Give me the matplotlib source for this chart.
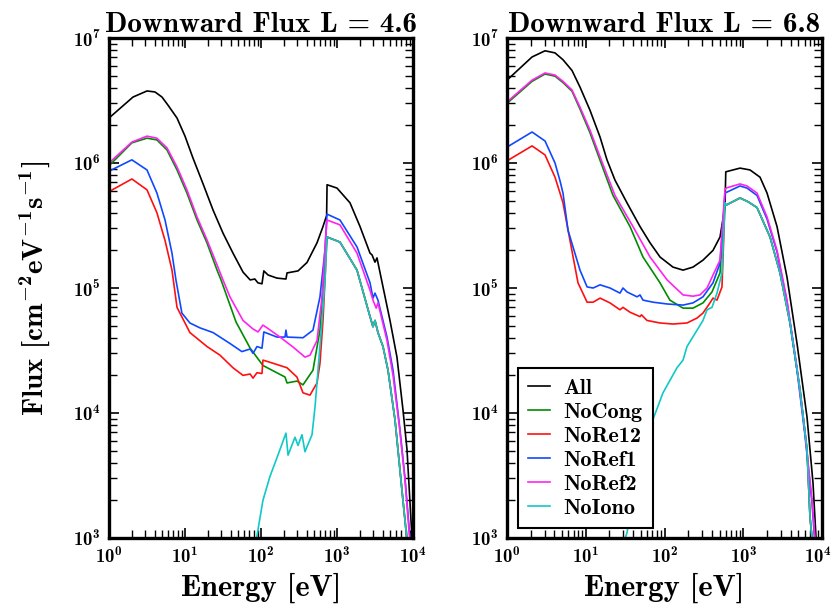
import matplotlib.pyplot as plt
from matplotlib.transforms import ScaledTranslation

plt.rcParams['font.family'] = 'cmb10'
plt.rcParams['mathtext.fontset'] = 'custom'
plt.rcParams['mathtext.rm'] = 'cmb10'
plt.rcParams['mathtext.bf'] = 'cmb10'
plt.rcParams['mathtext.it'] = 'cmb10'
plt.rcParams['axes.unicode_minus'] = False

labels = ['All', 'NoCong', 'NoRe12', 'NoRef1', 'NoRef2', 'NoIono']
colors = ['k', '#008c00', '#ff1010', '#1048ff', '#ff22f0', '#10c8c8']

# ---- L = 4.6 ----
all46_e = [1.0, 2.07, 3.16, 4.03, 4.98, 5.98, 7.85, 10, 12.7, 17.3, 23.4, 31.6, 42.8, 58, 72, 83, 91, 103,
           109, 124, 162, 213, 220, 307, 403, 546, 654, 730, 740, 1000, 1483, 2009, 2720, 2890, 3160, 3360,
           4030, 4980, 6150, 7380, 8340, 9400, 9900]
all46_f = [2.29e6, 3.37e6, 3.77e6, 3.7e6, 3.37e6, 2.9e6, 2.29e6, 1.64e6, 1.1e6, 6.8e5, 4.2e5, 2.75e5, 1.9e5,
           1.34e5, 1.16e5, 1.18e5, 1.1e5, 1.08e5, 1.37e5, 1.27e5, 1.2e5, 1.18e5, 1.32e5, 1.37e5, 1.6e5,
           2.3e5, 3.1e5, 3.8e5, 6.7e5, 6.3e5, 4.8e5, 3.1e5, 1.9e5, 1.84e5, 1.61e5, 1.74e5, 1.02e5, 5.5e4,
           2.8e4, 1.06e4, 5.1e3, 1.4e3, 8e2]

# shared high-energy part of NoCong / NoRe12 / NoIono
peak46_e = [738, 1094, 1833, 2720, 2975, 3160, 3460, 4030, 4690, 5800, 7380, 8600]
peak46_f = [2.56e5, 2.33e5, 1.39e5, 5.9e4, 4.9e4, 5.5e4, 4.4e4, 3.4e4, 2.2e4, 8.8e3, 2.0e3, 8e2]

cong46_e = [1.0, 2.0, 3.16, 4.27, 5.8, 7.85, 10.6, 14.4, 19.5, 26.4, 29.8, 46.9, 72, 106, 207, 220, 297,
            357, 483, 597, 695]
cong46_f = [9.5e5, 1.45e6, 1.58e6, 1.53e6, 1.27e6, 8.8e5, 5.75e5, 3.5e5, 2.29e5, 1.39e5, 1.16e5, 5.35e4,
            3.3e4, 2.4e4, 1.94e4, 1.74e4, 1.8e4, 1.68e4, 2.2e4, 4.6e4, 1.66e5]

re12_46_e = [1.0, 2.0, 3.16, 4.27, 5.46, 6.74, 7.85, 11.6, 19.5, 28.9, 42.8, 58, 72, 78.5, 88.5, 103, 106,
             144, 220, 297, 357, 441, 546, 597, 654, 695]
re12_46_f = [5.9e5, 7.45e5, 6.1e5, 4.0e5, 2.4e5, 1.39e5, 7.0e4, 4.4e4, 3.4e4, 2.9e4, 2.3e4, 2.0e4, 2.05e4,
             1.9e4, 2.1e4, 2.07e4, 2.65e4, 2.5e4, 2.3e4, 1.94e4, 1.45e4, 1.39e4, 1.74e4, 2.5e4, 5.5e4, 1.16e5]

ref1_46_e = [1.0, 2.0, 3.16, 4.27, 5.46, 6.74, 7.6, 9.1, 11.6, 15.7, 23.4, 39, 56, 72, 78.5, 88.5, 103, 109,
             162, 207, 213, 220, 357, 483, 597, 695, 738, 1094, 1833, 2720, 2975, 3160, 3460, 4550, 5460,
             6700, 7850, 9400]
ref1_46_f = [8.6e5, 1.06e6, 8.8e5, 5.75e5, 3.5e5, 1.9e5, 1.16e5, 6.3e4, 5.25e4, 4.8e4, 4.4e4, 3.6e4, 3.1e4,
             3.25e4, 3.0e4, 3.4e4, 3.3e4, 4.45e4, 4.05e4, 4.05e4, 4.6e4, 4.05e4, 4.0e4, 4.6e4, 8.5e4, 2.0e5,
             3.9e5, 3.5e5, 2.13e5, 1.1e5, 8.3e4, 9.1e4, 8.0e4, 4.05e4, 2.2e4, 7.6e3, 3.0e3, 8e2]

ref2_46_e = [1.0, 2.0, 3.16, 4.27, 5.8, 7.85, 10.6, 14.4, 19.5, 26.4, 31.6, 39, 58, 78.5, 91.4, 106, 120, 178,
             264, 379, 441, 546, 635, 695, 738, 1094, 1833, 2720, 2975, 3280, 3460, 4550, 5460, 6700, 7850,
             9300]
ref2_46_f = [1.0e6, 1.47e6, 1.64e6, 1.58e6, 1.32e6, 9.3e5, 6.1e5, 3.7e5, 2.42e5, 1.53e5, 1.16e5, 8.5e4, 5.5e4,
             4.7e4, 4.45e4, 5.05e4, 4.8e4, 4.05e4, 3.37e4, 2.8e4, 2.9e4, 3.8e4, 8.5e4, 2.1e5, 3.5e5, 3.2e5,
             1.9e5, 9.6e4, 8.0e4, 6.9e4, 7.6e4, 3.8e4, 2.0e4, 7.3e3, 2.9e3, 8e2]

iono46_e = [85, 106, 131, 167, 213, 227, 280, 307, 346, 379, 469, 514, 562, 635, 695]
iono46_f = [9e2, 2.0e3, 3.1e3, 4.6e3, 6.9e3, 4.6e3, 6.4e3, 5.5e3, 6.7e3, 4.9e3, 6.7e3, 1.12e4, 2.2e4, 5.5e4,
            1.16e5]

# ---- L = 6.8 ----
all68_e = [1.0, 2.08, 3.04, 4.07, 5.14, 6.69, 8.45, 11.3, 15.2, 18.6, 23.5, 33.4, 48.9, 65.5, 87.7, 128, 172,
           230, 308, 413, 507, 586, 600, 910, 1218, 1633, 2004, 2685, 3595, 4817, 6450, 7690, 8400, 8700]
all68_f = [4.6e6, 7.05e6, 7.9e6, 7.6e6, 6.7e6, 5.5e6, 4.05e6, 2.65e6, 1.61e6, 1.06e6, 7.3e5, 4.8e5, 3.1e5,
           2.3e5, 1.77e5, 1.47e5, 1.39e5, 1.47e5, 1.67e5, 2.0e5, 2.56e5, 4.45e5, 8.5e5, 9.1e5, 8.8e5, 7.7e5,
           5.75e5, 3.1e5, 1.22e5, 3.6e4, 9.3e3, 2.75e3, 1.0e3, 7e2]

peak68_e = [586, 604, 910, 1150, 1496, 2187, 2931, 3926, 5260, 6450, 7040, 7470, 7700]
peak68_f = [4.8e5, 4.6e5, 5.25e5, 4.9e5, 4.4e5, 2.56e5, 1.32e5, 5.25e4, 1.53e4, 5.1e3, 1.47e3, 1.0e3, 7e2]

cong68_e = [1.0, 2.08, 3.04, 4.07, 5.14, 6.69, 8.45, 11.3, 15.2, 22.2, 36.5, 53.3, 87.7, 117, 172, 230, 308,
            401, 507]
cong68_f = [3.0e6, 4.5e6, 5.15e6, 4.95e6, 4.4e6, 3.75e6, 2.7e6, 1.75e6, 1.05e6, 5.5e5, 3.1e5, 1.77e5, 1.1e5,
            8.0e4, 6.9e4, 6.9e4, 7.6e4, 9.3e4, 1.32e5]

re12_68_e = [1.0, 2.08, 3.04, 4.07, 4.71, 5.14, 6.31, 7.97, 10.4, 12.4, 15.2, 20.3, 27.2, 29.7, 36.5, 48.9, 51,
             60, 87.7, 128, 193, 259, 308, 378, 413, 464, 537]
re12_68_f = [1.04e6, 1.37e6, 1.16e6, 7.7e5, 5.75e5, 4.8e5, 2.4e5, 1.1e5, 7.7e4, 7.7e4, 8.3e4, 7.6e4, 6.7e4,
             7.0e4, 6.4e4, 5.9e4, 6.1e4, 5.5e4, 5.25e4, 5.15e4, 5.25e4, 5.75e4, 6.3e4, 7.6e4, 8.3e4, 8.0e4,
             1.02e5]

ref1_68_e = [1.0, 2.08, 3.04, 4.07, 4.71, 5.14, 5.95, 8.45, 10.4, 12.4, 15.2, 20.3, 27.2, 29.7, 33.4, 44.8, 48.9,
             53.3, 71.5, 108, 172, 230, 308, 413, 507, 586, 910, 1117, 1496, 2004, 2685, 3595, 4817, 6085,
             7470, 8400]
ref1_68_f = [1.34e6, 1.77e6, 1.5e6, 1.0e6, 7.2e5, 5.75e5, 2.9e5, 1.39e5, 1.02e5, 1.0e5, 1.06e5, 1.0e5, 9.1e4,
             1.0e5, 9.3e4, 8.5e4, 8.8e4, 8.0e4, 7.7e4, 7.45e4, 7.3e4, 7.6e4, 8.5e4, 1.1e5, 1.58e5, 5.75e5,
             6.55e5, 6.3e5, 5.5e5, 3.56e5, 1.94e5, 7.7e4, 2.2e4, 6.6e3, 1.9e3, 7e2]

ref2_68_e = [1.0, 2.08, 3.04, 4.07, 5.14, 6.69, 8.45, 11.3, 15.2, 23.5, 39.8, 65.5, 108, 172, 230, 282, 347, 401,
             507, 586, 604, 910, 1117, 1496, 2004, 2685, 3595, 4817, 6085, 7470, 8150, 8400]
ref2_68_f = [3.08e6, 4.6e6, 5.25e6, 5.05e6, 4.5e6, 3.84e6, 2.8e6, 1.84e6, 1.12e6, 5.5e5, 3.1e5, 1.77e5, 1.16e5,
             8.8e4, 8.6e4, 8.8e4, 1.0e5, 1.22e5, 1.67e5, 6.1e5, 6.3e5, 6.8e5, 6.55e5, 5.75e5, 3.7e5, 2.0e5,
             8.0e4, 2.3e4, 6.9e3, 2.0e3, 1.0e3, 7e2]

iono68_e = [30, 33.4, 44.8, 65.5, 95.7, 144, 172, 193, 259, 308, 347, 401, 464, 537]
iono68_f = [9e2, 1.1e3, 3.3e3, 7.7e3, 1.45e4, 2.3e4, 2.65e4, 3.4e4, 4.6e4, 5.5e4, 6.7e4, 7.0e4, 9.1e4, 1.32e5]

panels = [
    ('4.6', [(all46_e, all46_f),
             (cong46_e + peak46_e, cong46_f + peak46_f),
             (re12_46_e + peak46_e, re12_46_f + peak46_f),
             (ref1_46_e, ref1_46_f),
             (ref2_46_e, ref2_46_f),
             (iono46_e + peak46_e, iono46_f + peak46_f)]),
    ('6.8', [(all68_e, all68_f),
             (cong68_e + peak68_e, cong68_f + peak68_f),
             (re12_68_e + peak68_e, re12_68_f + peak68_f),
             (ref1_68_e, ref1_68_f),
             (ref2_68_e, ref2_68_f),
             (iono68_e + peak68_e, iono68_f + peak68_f)]),
]

fig = plt.figure(figsize=(8.33, 6.11), dpi=100)
ax1 = fig.add_axes([109 / 833, 73 / 611, 304 / 833, 500 / 611])
ax2 = fig.add_axes([507 / 833, 73 / 611, 315 / 833, 500 / 611])

for ax, (lval, series) in zip([ax1, ax2], panels):
    for (e, f), lab, col in zip(series, labels, colors):
        ax.plot(e, f, color=col, lw=1.2, label=lab)
    ax.set_xscale('log')
    ax.set_yscale('log')
    ax.set_xlim(1, 1e4)
    ax.set_ylim(1e3, 1e7)
    ax.set_title('Downward Flux L = ' + lval, fontsize=21, pad=4)
    ax.set_xlabel('Energy [eV]', fontsize=22, labelpad=4)
    ax.tick_params(which='both', direction='in', top=True, right=True, labelsize=13.5, pad=6)
    ax.tick_params(which='major', length=7, width=1.2)
    ax.tick_params(which='minor', length=6, width=1.0)
    for sp in ax.spines.values():
        sp.set_linewidth(2.4)

ax1.set_ylabel(r'Flux [cm$^{-2}$eV$^{-1}$s$^{-1}$]', fontsize=21, labelpad=14)

leg = ax2.legend(loc='lower left', fontsize=16, handlelength=1.0, handletextpad=0.6,
                 labelspacing=0.2, borderpad=0.45, borderaxespad=0, fancybox=False, framealpha=1,
                 edgecolor='k', bbox_to_anchor=(0.035, 0.02))
leg.get_frame().set_linewidth(1.5)

# nudge the last x tick label of the right panel so it stays inside the figure
fig.canvas.draw()
for tick in ax2.xaxis.get_major_ticks():
    if abs(tick.get_loc() - 1e4) < 1:
        lbl = tick.label1
        lbl.set_transform(lbl.get_transform() + ScaledTranslation(-0.04, 0, fig.dpi_scale_trans))

fig.savefig('out.png', dpi=100)
